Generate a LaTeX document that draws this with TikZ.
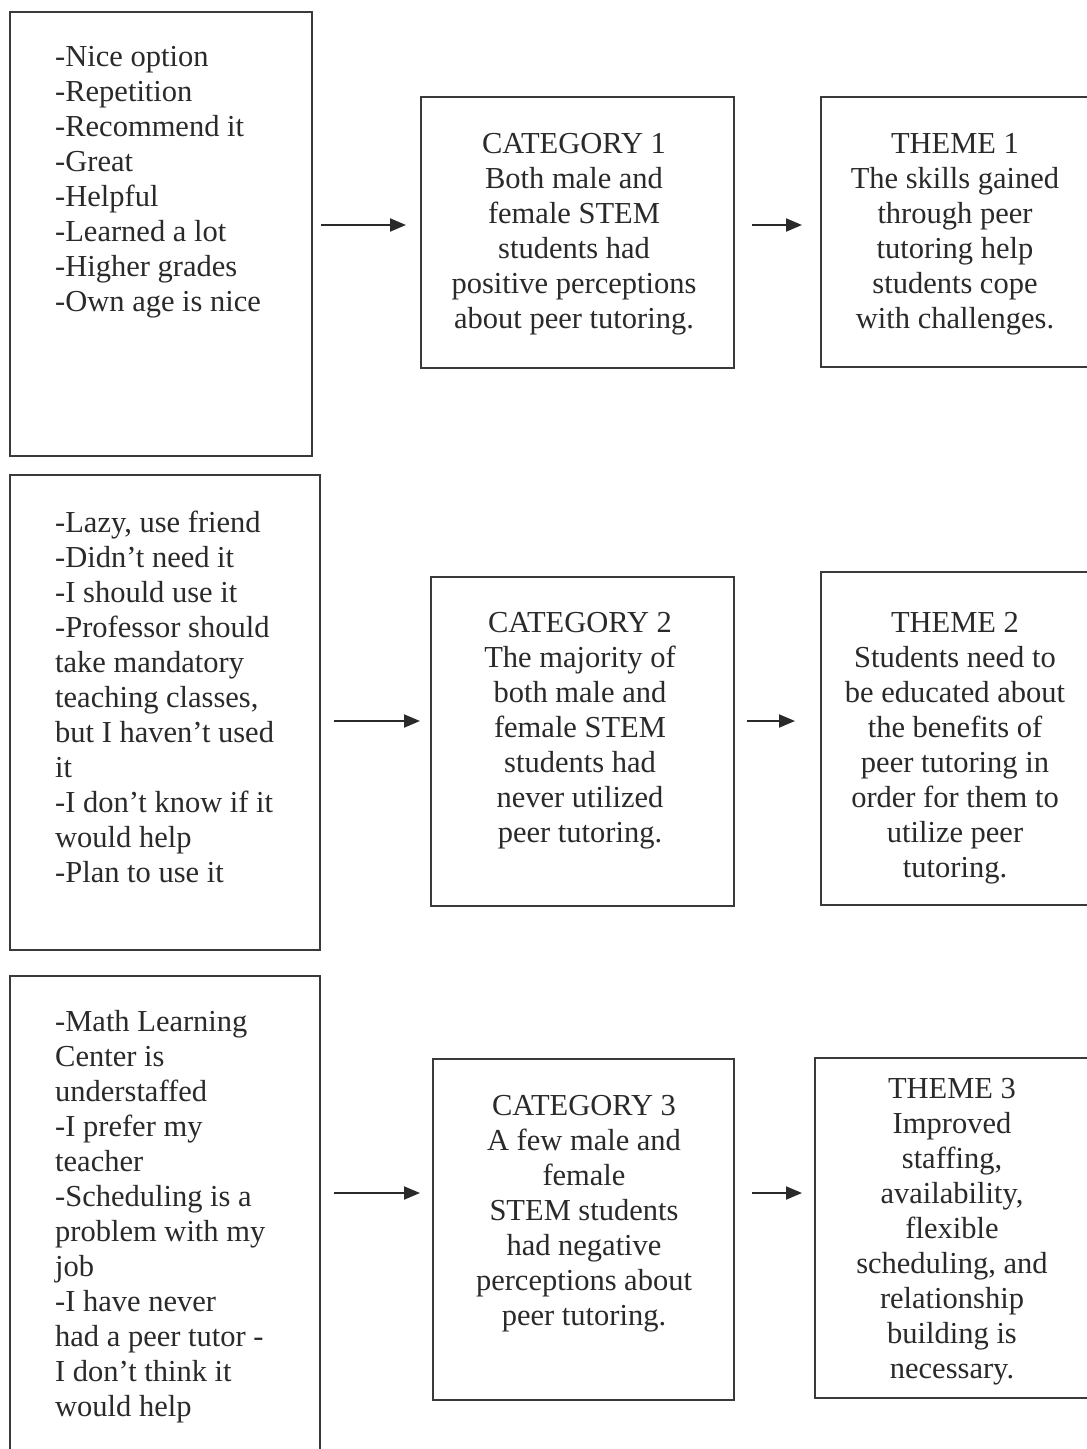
\documentclass[tikz,border=0pt]{standalone}
\usepackage{fontspec}
\setmainfont{Liberation Serif}
\usetikzlibrary{arrows.meta}
\definecolor{ink}{HTML}{2A2A2A}
\definecolor{frame}{HTML}{3A3A3A}
\begin{document}
\begin{tikzpicture}[x=1pt,y=-1pt,
  box/.style={draw=frame,line width=2pt,rectangle,inner sep=0pt},
  txt/.style={inner sep=0pt,text=ink,font=\fontsize{30.5}{35}\selectfont},
  ltxt/.style={txt,align=left,anchor=west},
  ctxt/.style={txt,align=center,anchor=center},
  arr/.style={draw=ink,line width=2pt,-{Triangle[length=16pt,width=13pt]}}]
\clip (0,0) rectangle (1087,1449);
\fill[white] (0,0) rectangle (1087,1449);
% boxes
\node[box,minimum width=302pt,minimum height=444pt] (l1) at (161,234) {};
\node[box,minimum width=313pt,minimum height=271pt] (c1) at (577.5,232.5) {};
\node[box,minimum width=270pt,minimum height=270pt] (t1) at (956,232) {};
\node[box,minimum width=310pt,minimum height=475pt] (l2) at (165,712.5) {};
\node[box,minimum width=303pt,minimum height=329pt] (c2) at (582.5,741.5) {};
\node[box,minimum width=270pt,minimum height=333pt] (t2) at (956,738.5) {};
\node[box,minimum width=310pt,minimum height=484pt] (l3) at (165,1218) {};
\node[box,minimum width=301pt,minimum height=341pt] (c3) at (583.5,1229.5) {};
\node[box,minimum width=276pt,minimum height=340pt] (t3) at (953,1228) {};
% texts
\node[ltxt] (l1t) at (55,182) {-Nice option\\-Repetition\\-Recommend it\\-Great\\-Helpful\\-Learned a lot\\-Higher grades\\-Own age is nice};
\node[ctxt] (c1t) at (574,234) {CATEGORY 1\\Both male and\\female STEM\\students had\\positive perceptions\\about peer tutoring.};
\node[ctxt] (t1t) at (955,234) {THEME 1\\The skills gained\\through peer\\tutoring help\\students cope\\with challenges.};
\node[ltxt] (l2t) at (55,697) {-Lazy, use friend\\-Didn’t need it\\-I should use it\\-Professor should\\take mandatory\\teaching classes,\\but I haven’t used\\it\\-I don’t know if it\\would help\\-Plan to use it};
\node[ctxt] (c2t) at (580,731) {CATEGORY 2\\The majority of\\both male and\\female STEM\\students had\\never utilized\\peer tutoring.};
\node[ctxt] (t2t) at (955,748) {THEME 2\\Students need to\\be educated about\\the benefits of\\peer tutoring in\\order for them to\\utilize peer\\tutoring.};
\node[ltxt] (l3t) at (55,1217) {-Math Learning\\Center is\\understaffed\\-I prefer my\\teacher\\-Scheduling is a\\problem with my\\job\\-I have never\\had a peer tutor -\\I don’t think it\\would help};
\node[ctxt] (c3t) at (584,1213.5) {CATEGORY 3\\A few male and\\female\\STEM students\\had negative\\perceptions about\\peer tutoring.};
\node[ctxt] (t3t) at (952,1231.5) {THEME 3\\Improved\\staffing,\\availability,\\flexible\\scheduling, and\\relationship\\building is\\necessary.};
% arrow rows
\coordinate (r1) at (0,225);
\coordinate (r2) at (0,721);
\coordinate (r3) at (0,1193);
\draw[arr,shorten <=8pt,shorten >=14pt] (l1.east |- r1) -- (c1.west |- r1);
\draw[arr,shorten <=17pt,shorten >=18pt] (c1.east |- r1) -- (t1.west |- r1);
\draw[arr,shorten <=13pt,shorten >=10pt] (l2.east |- r2) -- (c2.west |- r2);
\draw[arr,shorten <=12pt,shorten >=25pt] (c2.east |- r2) -- (t2.west |- r2);
\draw[arr,shorten <=13pt,shorten >=12pt] (l3.east |- r3) -- (c3.west |- r3);
\draw[arr,shorten <=17pt,shorten >=12pt] (c3.east |- r3) -- (t3.west |- r3);
\end{tikzpicture}
\end{document}
